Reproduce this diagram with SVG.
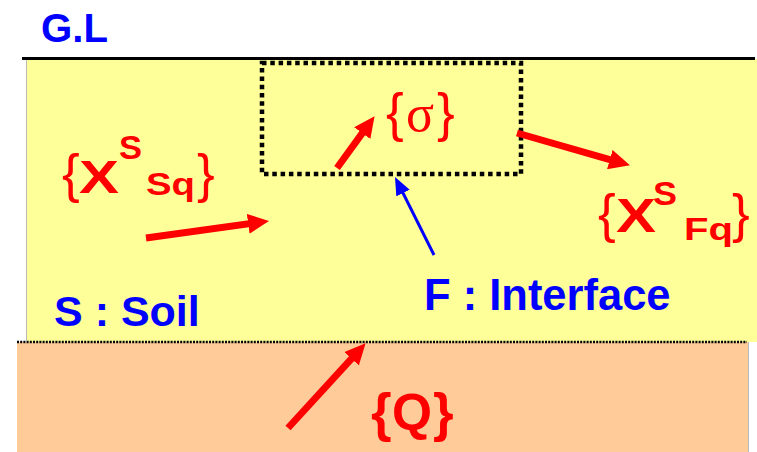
<svg xmlns="http://www.w3.org/2000/svg" width="757" height="452" viewBox="0 0 757 452">
<defs>
<style>
.red{fill:#FF0000;font-family:"Liberation Sans",Arial,sans-serif}
.b{font-weight:bold}
.blue{fill:#0000FF;font-family:"Liberation Sans",Arial,sans-serif;font-weight:bold}
.arr{stroke:#FF0000;stroke-width:7;fill:none;marker-end:url(#rh)}
.barr{stroke:#0000FF;stroke-width:3;fill:none;marker-end:url(#bh)}
</style>
<marker id="rh" markerUnits="userSpaceOnUse" viewBox="0 0 21 20" markerWidth="21" markerHeight="20" refX="10" refY="10" orient="auto">
<path d="M0,0 L21,10 L0,20 z" fill="#FF0000"/>
</marker>
<marker id="bh" markerUnits="userSpaceOnUse" viewBox="0 0 18 15" markerWidth="18" markerHeight="15" refX="9" refY="7.5" orient="auto">
<path d="M0,0 L18,7.5 L0,15 z" fill="#0000FF"/>
</marker>
</defs>

<g id="soil">
<rect x="27" y="59" width="730" height="283" fill="#FFFF99"/>
<line x1="26.5" y1="59" x2="26.5" y2="341" stroke="#BBBBBB" stroke-width="1"/>
</g>
<g id="base">
<rect x="17" y="342" width="731" height="110" fill="#FFCC99"/>
<line x1="748.5" y1="342" x2="748.5" y2="452" stroke="#BBBBBB" stroke-width="1"/>
<line x1="17" y1="342" x2="747" y2="342" stroke="#000" stroke-width="2.5" stroke-dasharray="2 1.2"/>
</g>
<g id="ground-line">
<line x1="22" y1="58.5" x2="755" y2="58.5" stroke="#000" stroke-width="3"/>
<text x="41" y="42" class="blue" font-size="40" textLength="67" lengthAdjust="spacingAndGlyphs">G.L</text>
</g>
<g id="interface-box">
<rect x="262" y="63" width="259" height="111" fill="none" stroke="#000" stroke-width="4.5" stroke-dasharray="4.5 3.8"/>
</g>

<g id="connectors">
<line class="arr" x1="146" y1="238" x2="258.1" y2="222.4"/>
<line class="arr" x1="337" y1="168" x2="368.1" y2="125.1"/>
<line class="arr" x1="517" y1="133" x2="619.4" y2="162.3"/>
<line class="arr" x1="288" y1="428" x2="358.2" y2="351.4"/>
<line class="barr" x1="434" y1="255" x2="399" y2="185"/>
</g>

<g id="sigma">
<text x="386" y="131" class="red" font-size="53">{</text>
<text x="406" y="131" class="red" font-size="52" style="font-family:'Liberation Serif','DejaVu Serif',serif">σ</text>
<text x="437" y="131" class="red" font-size="53">}</text>
</g>

<g id="xsq">
<text x="62" y="192" class="red" font-size="53">{</text>
<text x="79" y="193" class="red b" font-size="47" textLength="40" lengthAdjust="spacingAndGlyphs">X</text>
<text x="119" y="159" class="red b" font-size="33" textLength="23" lengthAdjust="spacingAndGlyphs">S</text>
<text x="146" y="195" class="red b" font-size="31" textLength="49" lengthAdjust="spacingAndGlyphs">Sq</text>
<text x="197" y="192" class="red" font-size="53">}</text>
</g>

<g id="xfq">
<text x="598" y="232" class="red" font-size="53">{</text>
<text x="616" y="232" class="red b" font-size="48" textLength="40" lengthAdjust="spacingAndGlyphs">X</text>
<text x="653" y="205" class="red b" font-size="33" textLength="24" lengthAdjust="spacingAndGlyphs">S</text>
<text x="684" y="240" class="red b" font-size="31" textLength="49" lengthAdjust="spacingAndGlyphs">Fq</text>
<text x="732" y="232" class="red" font-size="53">}</text>
</g>

<g id="q">
<text x="371" y="431" class="red b" font-size="53">{</text>
<text x="392" y="430" class="red b" font-size="52" textLength="40" lengthAdjust="spacingAndGlyphs">Q</text>
<text x="433" y="431" class="red b" font-size="53">}</text>
</g>

<g id="soil-label">
<text x="54" y="326" class="blue" font-size="43">S : Soil</text>
</g>
<g id="interface-label">
<text x="424" y="310" class="blue" font-size="43.5">F : Interface</text>
</g>
</svg>
